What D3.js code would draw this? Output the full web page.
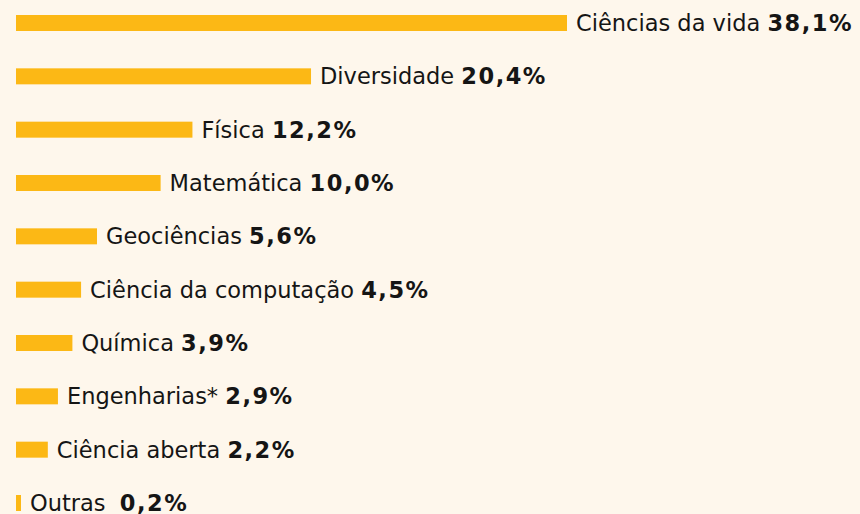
<!DOCTYPE html>
<html>
<head>
<meta charset="utf-8">
<script src="https://cdn.jsdelivr.net/npm/d3@7"></script>
<style>
  body { margin: 0; background: #fef7ec; }
  svg { display: block; }
  .lbl { font-family: "DejaVu Sans", sans-serif; font-size: 22.5px; fill: #151515; }
  .val { font-weight: bold; letter-spacing: 1.5px; }
</style>
</head>
<body>
<svg width="860" height="514"></svg>
<script>
/* data */
var areas = ["Ciências da vida", "Diversidade", "Física", "Matemática", "Geociências",
             "Ciência da computação", "Química", "Engenharias*", "Ciência aberta", "Outras"];
var shares = [38.1, 20.4, 12.2, 10.0, 5.6, 4.5, 3.9, 2.9, 2.2, 0.2];
var shareLabels = ["38,1%", "20,4%", "12,2%", "10,0%", "5,6%", "4,5%", "3,9%", "2,9%", "2,2%", "0,2%"];

var svg = d3.select("svg"),
    margin = {left: 16},
    barH = 16;

var data = areas.map(function(a, i) {
  return {area: a, share: shares[i], label: shareLabels[i]};
});

var x = d3.scaleLinear().domain([0, 38.1]).range([0, 551]);
var y = d3.scalePoint().domain(areas).range([23, 503]);

var g = svg.append("g").attr("transform", "translate(" + margin.left + ",0)");

/* bars - tiny values get a minimum width so they stay visible */
g.selectAll(".bar")
  .data(data)
  .enter().append("rect")
    .attr("class", "bar")
    .attr("x", 0)
    .attr("y", function(d) { return y(d.area) - barH / 2; })
    .attr("width", function(d) { return Math.max(x(d.share), 5); })
    .attr("height", barH)
    .attr("fill", "#fcb815");

var txt = g.selectAll(".lbl")
  .data(data)
  .enter().append("text")
    .attr("class", "lbl")
    .attr("x", function(d) { return Math.max(x(d.share), 5) + 9; })
    .attr("y", function(d) { return y(d.area) + 8; });

txt.append("tspan").text(function(d) { return d.area + (d.area == "Outras" ? "\u00a0\u00a0" : " "); });
txt.append("tspan").attr("class", "val").text(function(d) { return d.label; });
</script>
</body>
</html>
